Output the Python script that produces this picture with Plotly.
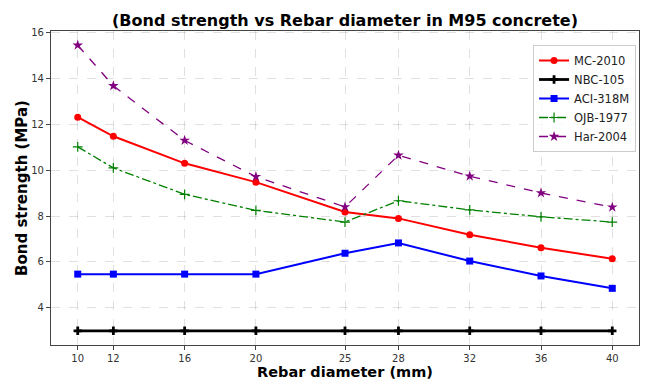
import plotly.graph_objects as go

diameters = [10, 12, 16, 20, 25, 28, 32, 36, 40]
mc2010 = [12.31, 11.48, 10.30, 9.48, 8.18, 7.90, 7.19, 6.62, 6.14]
nbc105 = [3.0, 3.0, 3.0, 3.0, 3.0, 3.0, 3.0, 3.0, 3.0]
aci318m = [5.47, 5.47, 5.47, 5.47, 6.38, 6.83, 6.04, 5.39, 4.85]
ojb1977 = [11.02, 10.10, 8.95, 8.25, 7.74, 8.67, 8.27, 7.97, 7.74]
har2004 = [15.45, 13.68, 11.30, 9.72, 8.40, 10.65, 9.74, 9.01, 8.39]
yticks = [4, 6, 8, 10, 12, 14, 16]

fig = go.Figure()
fig.add_trace(go.Scatter(x=diameters, y=mc2010, name="MC-2010", mode="lines+markers",
                         line=dict(color="red", width=2), marker=dict(symbol="circle", size=7, color="red")))
fig.add_trace(go.Scatter(x=diameters, y=nbc105, name="NBC-105", mode="lines+markers",
                         line=dict(color="black", width=2.8), marker=dict(symbol="cross", size=7, color="black")))
fig.add_trace(go.Scatter(x=diameters, y=aci318m, name="ACI-318M", mode="lines+markers",
                         line=dict(color="blue", width=2), marker=dict(symbol="square", size=7, color="blue")))
fig.add_trace(go.Scatter(x=diameters, y=ojb1977, name="OJB-1977", mode="lines+markers",
                         line=dict(color="green", width=1.3, dash="dashdot"),
                         marker=dict(symbol="cross-thin", size=7, color="green", line=dict(color="green", width=1.2))))
fig.add_trace(go.Scatter(x=diameters, y=har2004, name="Har-2004", mode="lines+markers",
                         line=dict(color="purple", width=1.3, dash="dash"),
                         marker=dict(symbol="star", size=8, color="purple")))

axis_common = dict(showline=True, linecolor="#444", linewidth=1.2, mirror=True,
                   ticks="outside", ticklen=4, tickcolor="#444", automargin=False,
                   showgrid=True, gridcolor="rgba(0,0,0,0.12)", griddash="dash", gridwidth=1,
                   zeroline=False, tickfont=dict(family="DejaVu Sans", size=10, color="#333"))

W, H = 645, 380
fig.update_layout(
    width=W, height=H,
    margin=dict(l=51, r=6, t=31, b=35),
    plot_bgcolor="white", paper_bgcolor="white",
    title=dict(text="<b>(Bond strength vs Rebar diameter in M95 concrete)</b>",
               x=345 / W, xanchor="center", y=1 - 20 / H, yanchor="middle",
               font=dict(family="DejaVu Sans", size=16, color="black"), automargin=False),
    xaxis=dict(range=[8.5, 41.5], tickvals=diameters, ticktext=[str(d) for d in diameters], **axis_common),
    yaxis=dict(range=[2.38, 16.07], tickvals=yticks, ticktext=[str(t) for t in yticks], **axis_common),
    legend=dict(x=0.995, y=(345 - 45) / 314, xanchor="right", yanchor="top",
                bgcolor="rgba(255,255,255,0.8)", bordercolor="#ccc", borderwidth=1,
                font=dict(family="DejaVu Sans", size=11.5, color="#222"),
                itemwidth=30, tracegroupgap=0),
    showlegend=True,
    annotations=[
        dict(text="<b>Rebar diameter (mm)</b>", xref="paper", yref="paper",
             x=0.5, y=-27 / 314, xanchor="center", yanchor="middle", showarrow=False,
             font=dict(family="DejaVu Sans", size=14.5, color="black"), borderpad=0),
        dict(text="<b>Bond strength (MPa)</b>", xref="paper", yref="paper",
             x=-29 / 588, y=0.5, xanchor="center", yanchor="middle", showarrow=False, textangle=-90,
             font=dict(family="DejaVu Sans", size=15, color="black")),
    ],
)

fig.write_html("out.html", config={"displayModeBar": False},
               post_script="document.body.style.margin='0';")
